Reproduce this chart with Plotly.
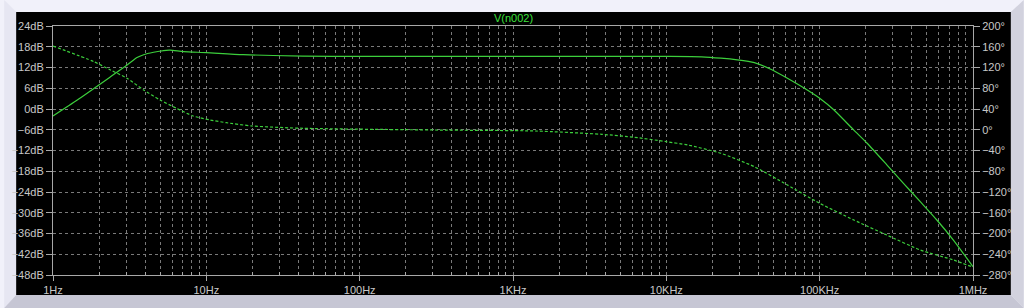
import plotly.graph_objects as go

# ---- data ----
freq_mag = [1, 1.44, 2.37, 3.04, 3.53, 3.9, 4.53, 5.26, 5.8, 7.1, 10, 17.4, 42.6, 100,
            1000, 5000, 10000, 17000, 22700, 29000, 37500, 48000, 61600, 83000,
            100000, 124000, 167000, 204000, 275000, 352000, 453000, 581000, 745000,
            1000000]
mag_db = [-2.0, 2.6, 9.3, 12.7, 14.9, 15.7, 16.4, 16.9, 17.0, 16.6, 16.3, 15.7, 15.3,
          15.2, 15.2, 15.2, 15.2, 15.1, 14.7, 14.2, 13.4, 11.5, 8.9, 5.5,
          3.1, -0.3, -6.1, -9.9, -16.2, -21.5, -26.8, -32.1, -37.9,
          -45.6]

freq_ph = [1, 1.85, 2.37, 3.04, 3.9, 5, 6.4, 8.2, 10.6, 13.5, 20, 42.6, 311, 1400,
           3800, 6200, 10000, 13800, 22700, 37500, 61600, 100000, 167000, 274000,
           453000, 745000, 1000000]
phase_deg = [161.4, 131.2, 115.2, 99.2, 76.6, 57.3, 41.3, 26.5, 18.8, 13.6, 7.2, 2.8,
             -0.5, -2.4, -8.8, -14.6, -23, -29.4, -45.4, -71.2, -106.5, -141.8,
             -174, -203, -231.8, -251, -265]

x_tickvals = [1, 10, 100, 1000, 10000, 100000, 1000000]
x_ticktext = ["1Hz", "10Hz", "100Hz", "1KHz", "10KHz", "100KHz", "1MHz"]
x_minor = [m * 10 ** d for d in range(6) for m in range(2, 10)]

title_text = "V(n002)"

# ---- geometry ----
W, H = 1024, 308
L, R, T, B = 49, 973, 26, 275


def px(x):
    return (x - L) / (R - L)


def py(y):
    return (B - y) / (B - T)


def poly(points):
    s = "M " + " L ".join(f"{px(x):.5f},{py(y):.5f}" for x, y in points) + " Z"
    return s


green = "#3ccf3c"
grid = "#7a7a7a"
axis_col = "#a8a8a8"
txt = "#c8c8c8"
font_family = "Liberation Sans, Arial, sans-serif"

fig = go.Figure()
fig.add_trace(go.Scatter(x=freq_mag, y=mag_db, mode="lines",
                         line=dict(color=green, width=1.2, shape="spline", smoothing=0.6),
                         yaxis="y", hoverinfo="skip", showlegend=False))
fig.add_trace(go.Scatter(x=freq_ph, y=phase_deg, mode="lines",
                         line=dict(color=green, width=1.2, dash="3px,2px",
                                   shape="spline", smoothing=0.6),
                         yaxis="y2", hoverinfo="skip", showlegend=False))

shapes = [
    # frame strips
    dict(type="path", path=poly([(0, 0), (W, 0), (1011, 12), (12, 12)]),
         xref="paper", yref="paper", fillcolor="#f1f1fa", line=dict(width=0), layer="below"),
    dict(type="path", path=poly([(0, 0), (12, 12), (12, 295), (0, H)]),
         xref="paper", yref="paper", fillcolor="#e6e6f2", line=dict(width=0), layer="below"),
    dict(type="path", path=poly([(1011, 12), (W, 0), (W, H), (1011, 295)]),
         xref="paper", yref="paper", fillcolor="#d2d2de", line=dict(width=0), layer="below"),
    dict(type="path", path=poly([(12, 295), (1011, 295), (W, H), (0, H)]),
         xref="paper", yref="paper", fillcolor="#c6c6d4", line=dict(width=0), layer="below"),
    # black panel
    dict(type="rect", x0=px(12), x1=px(1011), y0=py(295), y1=py(12),
         xref="paper", yref="paper", fillcolor="#000000", line=dict(width=0), layer="below"),
]

fig.update_layout(
    width=W, height=H,
    margin=dict(l=L, r=W - R, t=T, b=H - B, pad=0),
    paper_bgcolor="#f1f1fa",
    plot_bgcolor="#000000",
    shapes=shapes,
    font=dict(family=font_family, size=11, color=txt),
    xaxis=dict(
        type="log", range=[0, 6],
        tickmode="array", tickvals=x_tickvals, ticktext=x_ticktext,
        ticks="outside", ticklen=5, tickcolor=axis_col,
        showline=True, linecolor=axis_col, linewidth=1, mirror=True,
        showgrid=True, gridcolor=grid, griddash="3px,3px", gridwidth=1,
        minor=dict(tickmode="array", tickvals=x_minor, ticks="inside", ticklen=3,
                   tickcolor=axis_col, showgrid=True, gridcolor=grid,
                   griddash="3px,3px", gridwidth=1),
        tickfont=dict(family=font_family, size=11, color=txt),
        zeroline=False, fixedrange=True,
    ),
    yaxis=dict(
        range=[-48, 24], tickmode="linear", tick0=-48, dtick=6, ticksuffix="dB",
        ticks="outside", ticklen=6, tickcolor=axis_col,
        showline=True, linecolor=axis_col, linewidth=1,
        showgrid=True, gridcolor=grid, griddash="3px,3px", gridwidth=1,
        zeroline=False, tickfont=dict(family=font_family, size=11, color=txt),
        fixedrange=True,
    ),
    yaxis2=dict(
        range=[-280, 200], tickmode="linear", tick0=-280, dtick=40, ticksuffix="°",
        overlaying="y", side="right",
        ticks="outside", ticklen=6, tickcolor=axis_col,
        showline=True, linecolor=axis_col, linewidth=1,
        showgrid=False, zeroline=False,
        tickfont=dict(family=font_family, size=11, color=txt),
        fixedrange=True,
    ),
    annotations=[dict(text=title_text, xref="paper", yref="paper",
                      x=px(512), y=py(18), xanchor="center", yanchor="middle",
                      showarrow=False,
                      font=dict(family=font_family, size=11, color="#3ce03c"))],
)

fig.write_html("out.html")
